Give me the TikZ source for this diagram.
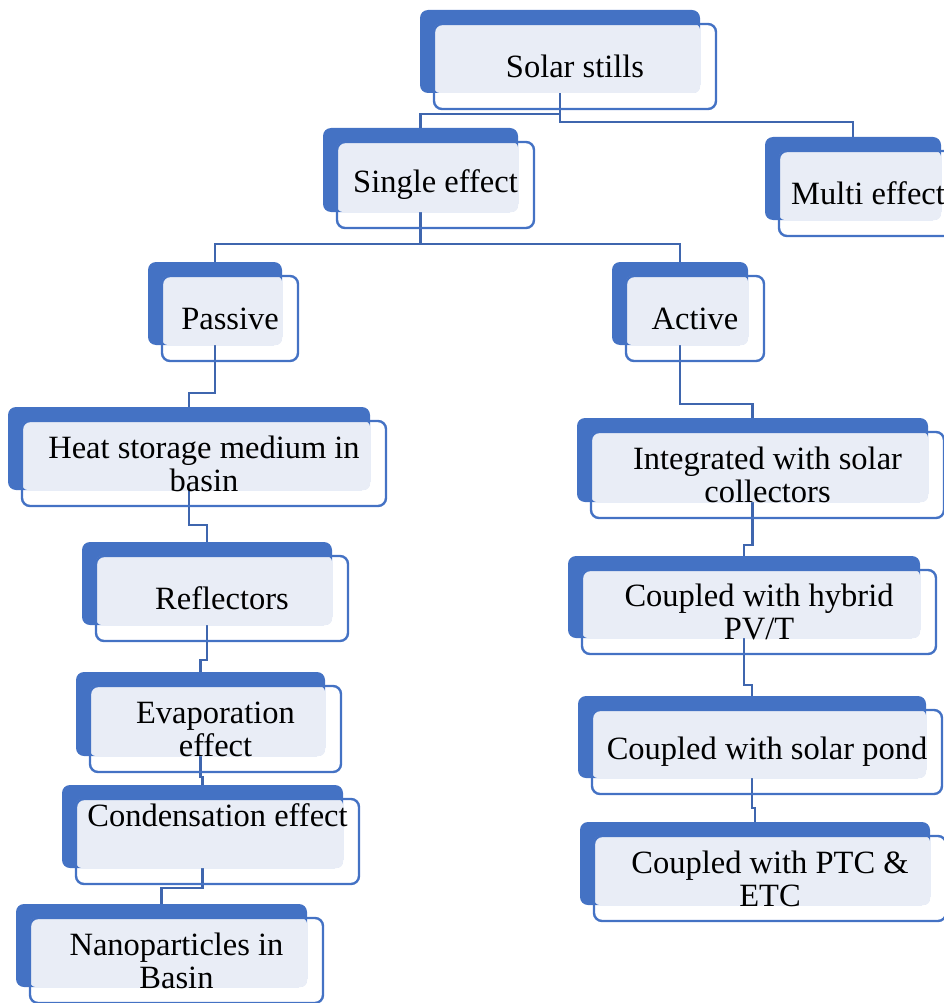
\documentclass[tikz,border=0pt]{standalone}
\usepackage{fontspec}
\setmainfont{Liberation Serif}
\usetikzlibrary{fit,calc}
\pgfdeclarelayer{background}
\pgfsetlayers{background,main}
\definecolor{dblue}{HTML}{4472C4}
\definecolor{lblue}{HTML}{E9EDF6}
\definecolor{cblue}{HTML}{3F66AE}
\tikzset{
  backbox/.style={fill=dblue, rounded corners=8pt, inner sep=0pt, outer sep=0pt},
  lightfill/.style={fill=lblue, rounded corners=6pt},
  frontbox/.style={draw=dblue, line width=2.4pt, rounded corners=8pt, inner sep=0pt, outer sep=0pt},
  boxtext/.style={align=center, inner sep=0pt, font=\fontsize{32.5}{33}\selectfont},
  conn/.style={draw=cblue, line width=2.4pt}
}
\newcommand{\stillbox}[7][0]{%
  \node[backbox, fit={(#3,#4) (#5,#6)}] (#2-b) {};
  \fill[lightfill] ([shift={(14,14)}]#2-b.north west) rectangle (#2-b.south east);
  \node[frontbox, fit={([shift={(14,14)}]#2-b.north west) ([shift={(16,16)}]#2-b.south east)}] (#2) {};
  \node[boxtext] (#2-t) at ([yshift=#1pt]#2.center) {#7};
}
\begin{document}
\begin{tikzpicture}[x=1pt,y=-1pt]
\useasboundingbox (0,0) rectangle (943,1003);
\stillbox{solar}{420}{10}{700}{93}{Solar stills}
\stillbox{single}{323}{128}{518}{212}{Single effect}
\stillbox{multi}{765}{137}{941}{220}{Multi effect}
\stillbox{passive}{148}{262}{282}{345}{Passive}
\stillbox{active}{612}{262}{748}{345}{Active}
\stillbox{heat}{8}{407}{370}{490}{Heat storage medium in\\basin}
\stillbox{integ}{577}{418}{928}{502}{Integrated with solar\\collectors}
\stillbox{refl}{82}{542}{332}{625}{Reflectors}
\stillbox{hybrid}{568}{556}{920}{638}{Coupled with hybrid\\PV/T}
\stillbox{evap}{76}{672}{325}{756}{Evaporation\\effect}
\stillbox{pond}{578}{696}{926}{778}{Coupled with solar pond}
\stillbox[26]{cond}{62}{785}{343}{868}{Condensation effect}
\stillbox{ptc}{580}{822}{930}{905}{Coupled with PTC \&\\ETC}
\stillbox{nano}{16}{904}{307}{987}{Nanoparticles in\\Basin}
\begin{pgfonlayer}{background}
\draw[conn] (solar-b.south) -- (solar-b.south |- 0,114) -| (single-b.north);
\draw[conn] (solar-b.south) -- (solar-b.south |- 0,122) -| (multi-b.north);
\draw[conn] (single-b.south) -- (single-b.south |- 0,244) -| (passive-b.north);
\draw[conn] (single-b.south) -- (single-b.south |- 0,244) -| (active-b.north);
\draw[conn] (passive-b.south) -- (passive-b.south |- 0,393) -| (heat-b.north);
\draw[conn] (active-b.south) -- (active-b.south |- 0,404) -| (integ-b.north);
\draw[conn] (heat-b.south) -- (heat-b.south |- 0,525) -| (refl-b.north);
\draw[conn] (integ-b.south) -- (integ-b.south |- 0,545) -| (hybrid-b.north);
\draw[conn] (refl-b.south) -- (refl-b.south |- 0,660) -| (evap-b.north);
\draw[conn] (hybrid-b.south) -- (hybrid-b.south |- 0,685) -| (pond-b.north);
\draw[conn] (evap-b.south) -- (evap-b.south |- 0,777) -| (cond-b.north);
\draw[conn] (pond-b.south) -- (pond-b.south |- 0,808) -| (ptc-b.north);
\draw[conn] (cond-b.south) -- (cond-b.south |- 0,888) -| (nano-b.north);
\end{pgfonlayer}
\end{tikzpicture}
\end{document}
